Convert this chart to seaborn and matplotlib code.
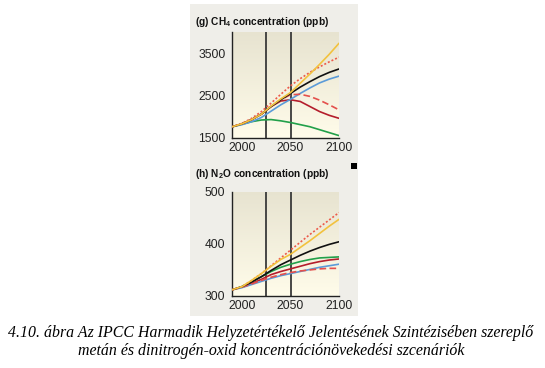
import numpy as np
import pandas as pd
import matplotlib
matplotlib.use("Agg")
import matplotlib.pyplot as plt
import seaborn as sns
from matplotlib.patches import Rectangle
from matplotlib.ticker import MultipleLocator

years = [1990, 2000, 2010, 2020, 2030, 2040, 2050, 2060, 2070, 2080, 2090, 2100]

ch4_yellow = [1760, 1830, 1930, 2060, 2250, 2420, 2570, 2790, 3010, 3240, 3480, 3740]
ch4_reddot = [1760, 1840, 1960, 2120, 2320, 2530, 2730, 2900, 3050, 3180, 3300, 3410]
ch4_black = [1760, 1830, 1930, 2060, 2240, 2400, 2550, 2700, 2830, 2950, 3050, 3130]
ch4_blue = [1760, 1810, 1880, 1980, 2130, 2280, 2410, 2550, 2680, 2800, 2890, 2960]
ch4_reddash = [1760, 1830, 1930, 2060, 2240, 2400, 2520, 2530, 2480, 2390, 2280, 2160]
ch4_darkred = [1760, 1830, 1930, 2060, 2240, 2370, 2400, 2360, 2240, 2120, 2030, 1960]
ch4_green = [1760, 1820, 1880, 1920, 1930, 1900, 1860, 1810, 1760, 1690, 1620, 1550]

n2o_yellow = [312, 318, 330, 343, 357, 370, 380, 393, 406, 420, 434, 447]
n2o_reddot = [312, 318, 330, 343, 358, 373, 388, 403, 418, 432, 446, 460]
n2o_black = [312, 318, 327, 337, 349, 360, 369, 378, 386, 393, 399, 404]
n2o_green = [312, 318, 327, 337, 347, 355, 361, 366, 370, 373, 374, 375]
n2o_darkred = [312, 317, 324, 332, 341, 347, 352, 357, 362, 366, 369, 371]
n2o_reddash = [312, 317, 323, 330, 336, 341, 345, 348, 350, 352, 353, 353]
n2o_blue = [312, 316, 322, 328, 334, 339, 343, 347, 351, 355, 358, 361]

ch4_title = r"(g) CH$_4$ concentration (ppb)"
n2o_title = r"(h) N$_2$O concentration (ppb)"
x_ticks = [2000, 2050, 2100]
ch4_ticks = [1500, 2500, 3500]
n2o_ticks = [300, 400, 500]
marker_years = [2025, 2050]
caption = ("4.10. ábra Az IPCC Harmadik Helyzetértékelő Jelentésének Szintézisében szereplő\n"
           "metán és dinitrogén-oxid koncentrációnövekedési szcenáriók")

styles = {
    "yellow": ("#f2c23e", "-"),
    "reddot": ("#ec5a4a", (0, (1.2, 1.2))),
    "black": ("#111111", "-"),
    "blue": ("#5b9bd8", "-"),
    "reddash": ("#e4504c", (0, (4, 2))),
    "darkred": ("#b41e2c", "-"),
    "green": ("#22a04a", "-"),
}

sns.set_theme(style="white")
plt.rcParams["font.family"] = ["Liberation Sans", "DejaVu Sans"]
plt.rcParams["mathtext.default"] = "regular"

fig = plt.figure(figsize=(5.45, 3.68), dpi=100)
fig.patch.set_facecolor("white")
fig.patches.append(Rectangle((190 / 545, 1 - 316 / 368), 168 / 545, 312 / 368,
                             transform=fig.transFigure, facecolor="#efeee9",
                             edgecolor="none", zorder=-5))
fig.patches.append(Rectangle((351 / 545, 1 - 169 / 368), 6 / 545, 6 / 368,
                             transform=fig.transFigure, facecolor="black",
                             edgecolor="none", zorder=5))

ax1 = fig.add_axes([232.3 / 545, 1 - 137.7 / 368, 106.7 / 545, 105.4 / 368])
ax2 = fig.add_axes([232.3 / 545, 1 - 296 / 368, 106.7 / 545, 104.3 / 368])

def draw(ax, series, ylim, yticks, minor_y, title, title_y):
    ax.set_facecolor("none")
    grad = np.linspace(0, 1, 256).reshape(-1, 1)
    top = np.array([231, 227, 208]) / 255
    bot = np.array([255, 252, 234]) / 255
    img = top[None, None, :] * (1 - grad[:, :, None]) + bot[None, None, :] * grad[:, :, None]
    ax.imshow(img, extent=[1990, 2100, ylim[0], ylim[1]], origin="upper",
              aspect="auto", zorder=0)
    for yr in marker_years:
        ax.axvline(yr, color="#3a3a3a", lw=1.3, zorder=1)
    order = ["green", "darkred", "blue", "reddash", "black", "reddot", "yellow"]
    for name in order:
        c, ls = styles[name]
        df = pd.DataFrame({"year": years, "value": series[name]})
        sns.lineplot(data=df, x="year", y="value", ax=ax, color=c, lw=1.2,
                     linestyle=ls, zorder=3)
    ax.set_xlim(1990, 2100)
    ax.set_ylim(*ylim)
    ax.set_xticks(x_ticks)
    ax.set_yticks(yticks)
    ax.xaxis.set_minor_locator(MultipleLocator(12.5))
    ax.yaxis.set_minor_locator(MultipleLocator(minor_y))
    ax.set_xlabel("")
    ax.set_ylabel("")
    for s in ["top", "right"]:
        ax.spines[s].set_visible(False)
    for s in ["left", "bottom"]:
        ax.spines[s].set_color("#222222")
        ax.spines[s].set_linewidth(1.0)
    ax.tick_params(axis="both", which="both", labelsize=8.7, colors="#222222",
                   length=3, width=0.8, direction="out", pad=2)
    ax.tick_params(axis="x", which="both", direction="in", pad=3)
    ax.tick_params(axis="both", which="minor", length=2.5)
    fig.text(195 / 545, 1 - title_y / 368, title, fontsize=7.3, fontweight="bold",
             ha="left", va="center", color="#111111")

draw(ax1, {"yellow": ch4_yellow, "reddot": ch4_reddot, "black": ch4_black,
           "blue": ch4_blue, "reddash": ch4_reddash, "darkred": ch4_darkred,
           "green": ch4_green}, (1500, 4000), ch4_ticks, 500, ch4_title, 22)
draw(ax2, {"yellow": n2o_yellow, "reddot": n2o_reddot, "black": n2o_black,
           "blue": n2o_blue, "reddash": n2o_reddash, "darkred": n2o_darkred,
           "green": n2o_green}, (300, 500), n2o_ticks, 25, n2o_title, 174)

fig.text(271 / 545, 1 - 342 / 368, caption, ha="center", va="center",
         fontsize=11.4, style="italic", family=["Liberation Serif", "DejaVu Serif"],
         linespacing=1.15, color="black")

fig.savefig("out.png", dpi=100)
